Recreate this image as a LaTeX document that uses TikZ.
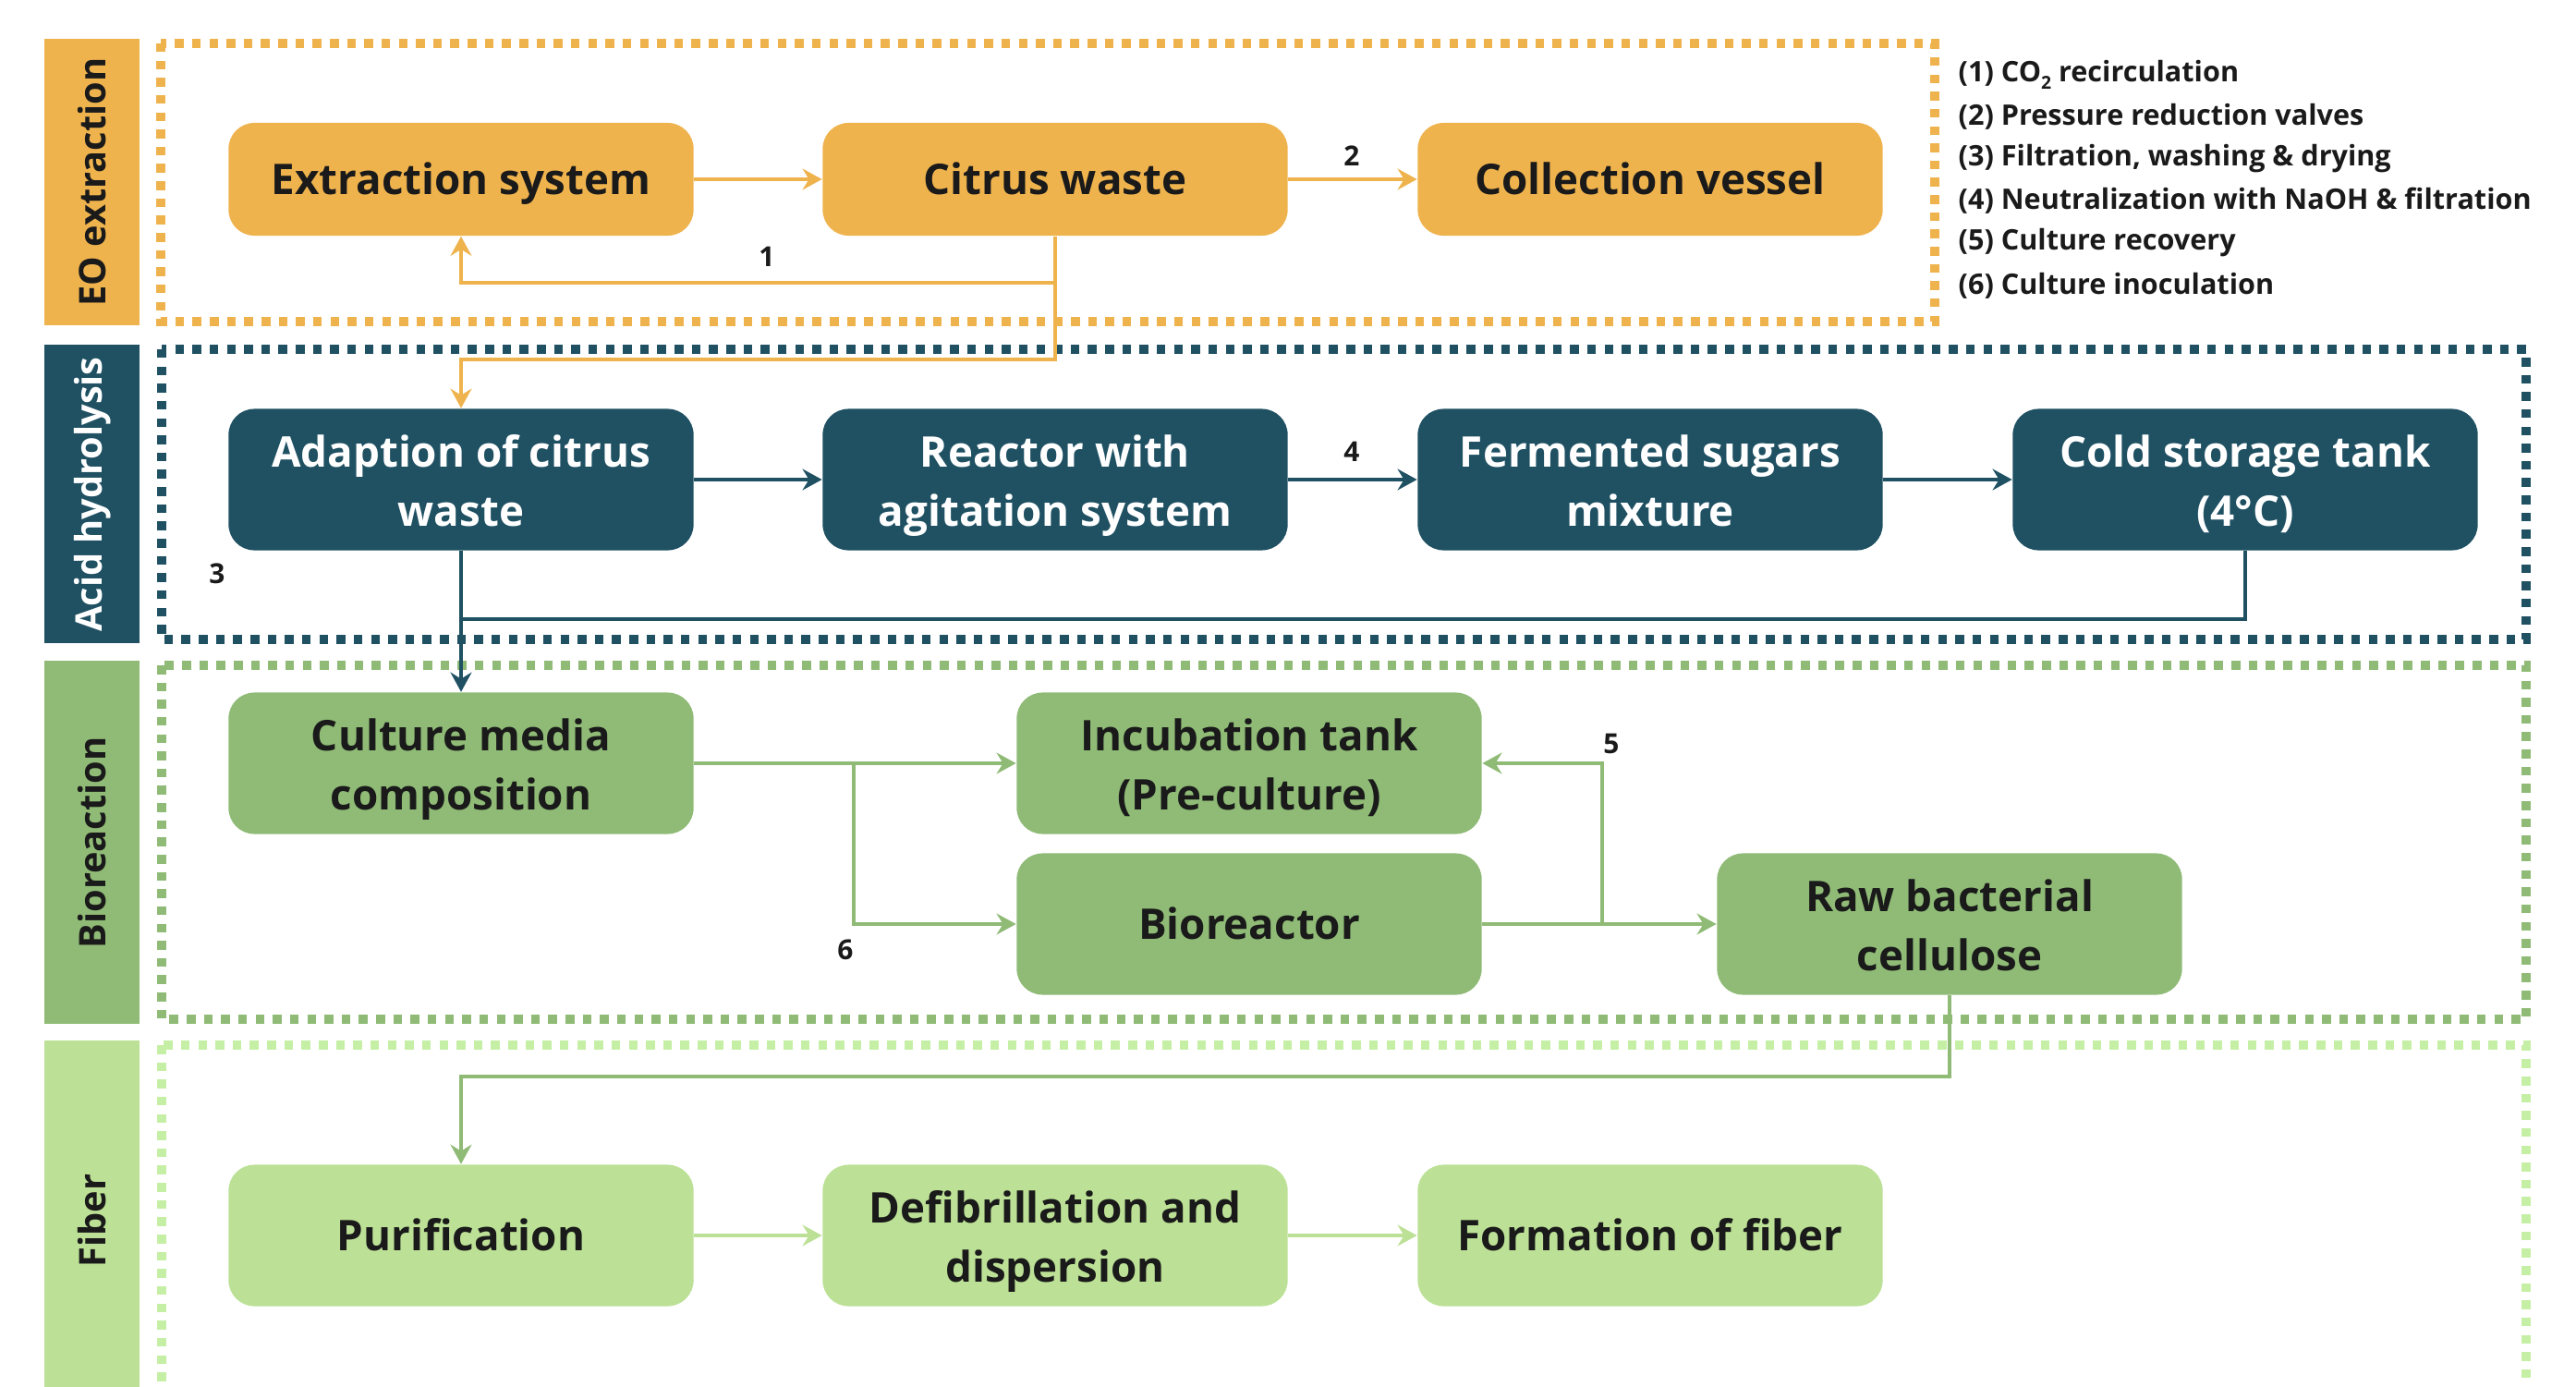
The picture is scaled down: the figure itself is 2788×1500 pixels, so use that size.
\documentclass[tikz,border=0pt]{standalone}
\usepackage{fontspec}
\setmainfont{Open Sans}
\usetikzlibrary{arrows.meta}
\definecolor{eoorange}{HTML}{EFB34E}
\definecolor{acidteal}{HTML}{1F5163}
\definecolor{biogreen}{HTML}{8FBB76}
\definecolor{fibergreen}{HTML}{BCE196}
\definecolor{fiberdots}{HTML}{C6EFA6}
\definecolor{inkdark}{HTML}{1A1A1A}
\newcommand{\myonestrut}{\rule[-4.4pt]{0pt}{18.4pt}}
\newcommand{\mytwostrut}{\rule[-4pt]{0pt}{36.5pt}}
\begin{document}
\begin{tikzpicture}[x=0.01cm,y=-0.01cm,
		flowbox/.style={rounded corners=0.28cm,minimum width=5.03cm,minimum height=1.53cm,inner sep=0pt,align=center,font=\bfseries\fontsize{13}{18}\selectfont},
		oneline/.style={execute at begin node=\myonestrut},
		twoline/.style={execute at begin node=\mytwostrut},
		eobox/.style={flowbox,oneline,fill=eoorange,text=inkdark,minimum height=1.22cm},
		acidbox/.style={flowbox,twoline,fill=acidteal,text=white},
		biobox/.style={flowbox,fill=biogreen,text=inkdark},
		fiberbox/.style={flowbox,fill=fibergreen,text=inkdark},
		dotsframe/.style={line width=2.8pt,dash pattern=on 2.7pt off 2.6pt},
		flowline/.style={line width=1.2pt},
		flowarrow/.style={flowline,-{Stealth[length=6pt,width=6.5pt,inset=2pt]}},
		sidelabel/.style={rotate=90,inner sep=0pt,font=\bfseries\fontsize{11.3}{13}\selectfont},
		numlabel/.style={inner sep=0pt,text=inkdark,font=\bfseries\fontsize{8.5}{10}\selectfont},
		legendline/.style={anchor=west,inner sep=0pt,text=inkdark,font=\bfseries\fontsize{8.7}{10}\selectfont}]
			\newcommand{\mysubtwo}{\raisebox{-0.45ex}{\fontsize{5.5}{6}\selectfont 2}}
			\clip (0,0) rectangle (2788,1500);
			%Side bars with the stage names
			\fill[eoorange] (48,42) rectangle (151,352);
			\fill[acidteal] (48,373) rectangle (151,696);
			\fill[biogreen] (48,715) rectangle (151,1108);
			\fill[fibergreen] (48,1126) rectangle (151,1560);
			\node [sidelabel,text=inkdark] (eolabel) at (100,197) {EO extraction};
			\node [sidelabel,text=white] (acidlabel) at (100,535) {Acid hydrolysis};
			\node [sidelabel,text=inkdark] (biolabel) at (100,912) {Bioreaction};
			\node [sidelabel,text=inkdark] (fiberlabel) at (100,1321) {Fiber};
			%Dotted frames
			\draw[dotsframe,eoorange] (174,47) rectangle (2094,348);
			\draw[dotsframe,acidteal] (175,378) rectangle (2734,692);
			\draw[dotsframe,biogreen] (175,720) rectangle (2734,1103);
			\draw[dotsframe,fiberdots] (175,1131) rectangle (2734,1560);
			%Legend
			\node [legendline] (leg1) at (2119,81) {(1) CO\mysubtwo{} recirculation};
			\node [legendline] (leg2) at (2119,126) {(2) Pressure reduction valves};
			\node [legendline] (leg3) at (2119,172) {(3) Filtration, washing \& drying};
			\node [legendline] (leg4) at (2119,217) {(4) Neutralization with NaOH \& filtration};
			\node [legendline] (leg5) at (2119,263) {(5) Culture recovery};
			\node [legendline] (leg6) at (2119,309) {(6) Culture inoculation};
			%EO extraction
			\node [eobox] (extraction) at (499,194) {Extraction system};
			\node [eobox] (citrus) at (1142,194) {Citrus waste};
			\node [eobox] (collection) at (1786,194) {Collection vessel};
			%Acid hydrolysis
			\node [acidbox] (adaption) at (499,519) {Adaption of citrus\\waste};
			\node [acidbox] (reactor) at (1142,519) {Reactor with\\agitation system};
			\node [acidbox] (fermented) at (1786,519) {Fermented sugars\\mixture};
			\node [acidbox] (cold) at (2430,519) {Cold storage tank\\(4°C)};
			%Bioreaction
			\node [biobox,twoline] (culture) at (499,826) {Culture media\\composition};
			\node [biobox,twoline] (incubation) at (1352,826) {Incubation tank\\(Pre-culture)};
			\node [biobox,oneline] (bioreactor) at (1352,1000) {Bioreactor};
			\node [biobox,twoline] (raw) at (2110,1000) {Raw bacterial\\cellulose};
			%Fiber
			\node [fiberbox,oneline] (purification) at (499,1337) {Purification};
			\node [fiberbox,twoline] (defib) at (1142,1337) {Defibrillation and\\dispersion};
			\node [fiberbox,oneline] (formation) at (1786,1337) {Formation of fiber};
			%Bend points of the connectors
			\coordinate (co2turn) at (1142,306);
			\coordinate (feedturn) at (1142,389);
			\coordinate (filterturn) at (499,670);
			\coordinate (inocsplit) at (924,826);
			\coordinate (recsplit) at (1734,1000);
			\coordinate (rawturn) at (2110,1165);
			%Orange connectors
			\draw[flowarrow,eoorange] (extraction) -- (citrus);
			\draw[flowarrow,eoorange] (citrus) -- (collection);
			\draw[flowarrow,eoorange] (citrus.south) -- (co2turn) -| (extraction.south);
			\draw[flowarrow,eoorange] (co2turn) -- (feedturn) -| (adaption.north);
			%Teal connectors
			\draw[flowarrow,acidteal] (adaption) -- (reactor);
			\draw[flowarrow,acidteal] (reactor) -- (fermented);
			\draw[flowarrow,acidteal] (fermented) -- (cold);
			\draw[flowline,acidteal] (cold.south) |- (filterturn);
			\draw[flowarrow,acidteal] (adaption.south) -- (culture.north);
			%Green connectors
			\draw[flowarrow,biogreen] (culture) -- (incubation);
			\draw[flowarrow,biogreen] (inocsplit) |- (bioreactor.west);
			\draw[flowarrow,biogreen] (bioreactor) -- (raw);
			\draw[flowarrow,biogreen] (recsplit) |- (incubation.east);
			\draw[flowarrow,biogreen] (raw.south) -- (rawturn) -| (purification.north);
			%Light green connectors
			\draw[flowarrow,fibergreen] (purification) -- (defib);
			\draw[flowarrow,fibergreen] (defib) -- (formation);
			%Step numbers
			\node [numlabel] (num1) at (830,278) {1};
			\node [numlabel] (num2) at (1463,169) {2};
			\node [numlabel] (num3) at (235,621) {3};
			\node [numlabel] (num4) at (1463,489) {4};
			\node [numlabel] (num5) at (1744,805) {5};
			\node [numlabel] (num6) at (915,1028) {6};
\end{tikzpicture}
\end{document}
